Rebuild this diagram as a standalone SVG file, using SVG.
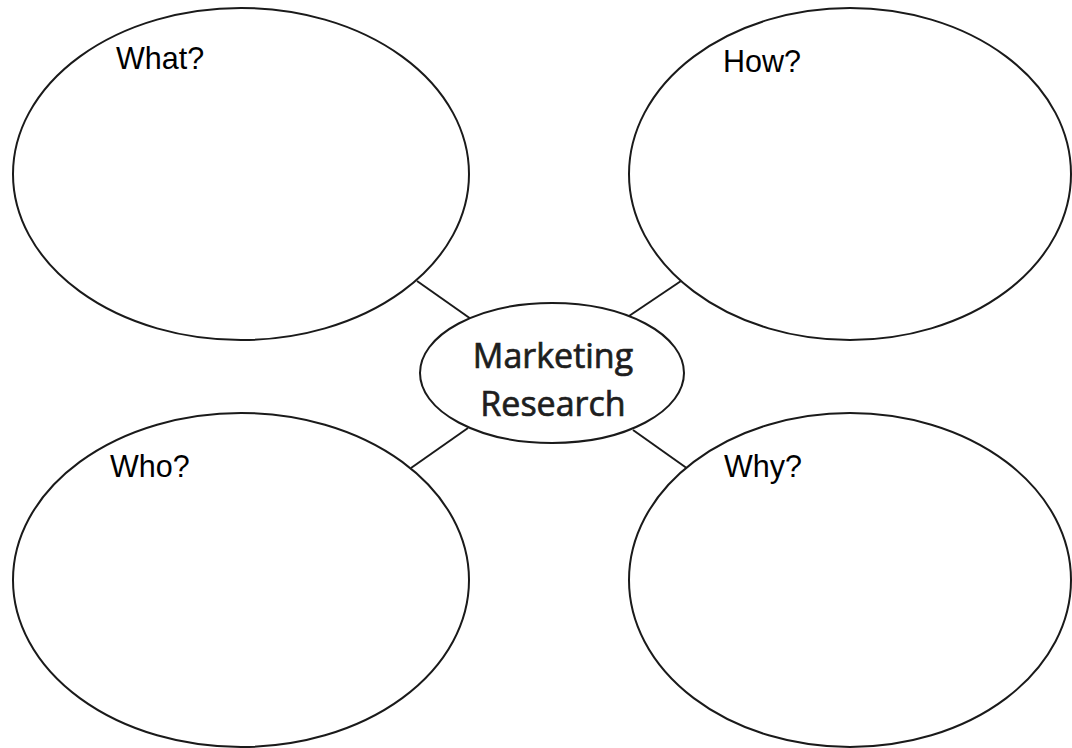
<svg xmlns="http://www.w3.org/2000/svg" width="1072" height="748" viewBox="0 0 1072 748">
<style>
.node{fill:#fff;stroke:#1a1a1a;stroke-width:2}
.conn{stroke:#1a1a1a;stroke-width:2;fill:none}
.q{font-family:"Liberation Sans",Arial,sans-serif;font-size:30.5px;fill:#000}
.c{font-family:"Open Sans","Noto Sans",sans-serif;font-size:34px;fill:#1e1e1e;stroke:#1e1e1e;stroke-width:0.7;text-anchor:middle}
</style>
<rect width="1072" height="748" fill="#fff"/>
<g id="connectors">
<line class="conn" x1="417" y1="281" x2="471" y2="319"/>
<line class="conn" x1="681" y1="281" x2="629" y2="316"/>
<line class="conn" x1="411" y1="468" x2="468" y2="428"/>
<line class="conn" x1="633" y1="430" x2="688" y2="469"/>
</g>
<g id="what">
<ellipse class="node" cx="241" cy="174" rx="228" ry="166"/>
<text class="q" x="116" y="69">What?</text>
</g>
<g id="how">
<ellipse class="node" cx="850" cy="174" rx="221" ry="166"/>
<text class="q" x="723" y="72">How?</text>
</g>
<g id="who">
<ellipse class="node" cx="241" cy="580" rx="228" ry="167"/>
<text class="q" x="110" y="477">Who?</text>
</g>
<g id="why">
<ellipse class="node" cx="850" cy="580" rx="221" ry="167"/>
<text class="q" x="724" y="477">Why?</text>
</g>
<g id="center">
<ellipse class="node" cx="552" cy="373" rx="132" ry="70"/>
<text class="c" x="553" y="368">Marketing</text>
<text class="c" x="553" y="416">Research</text>
</g>
</svg>
